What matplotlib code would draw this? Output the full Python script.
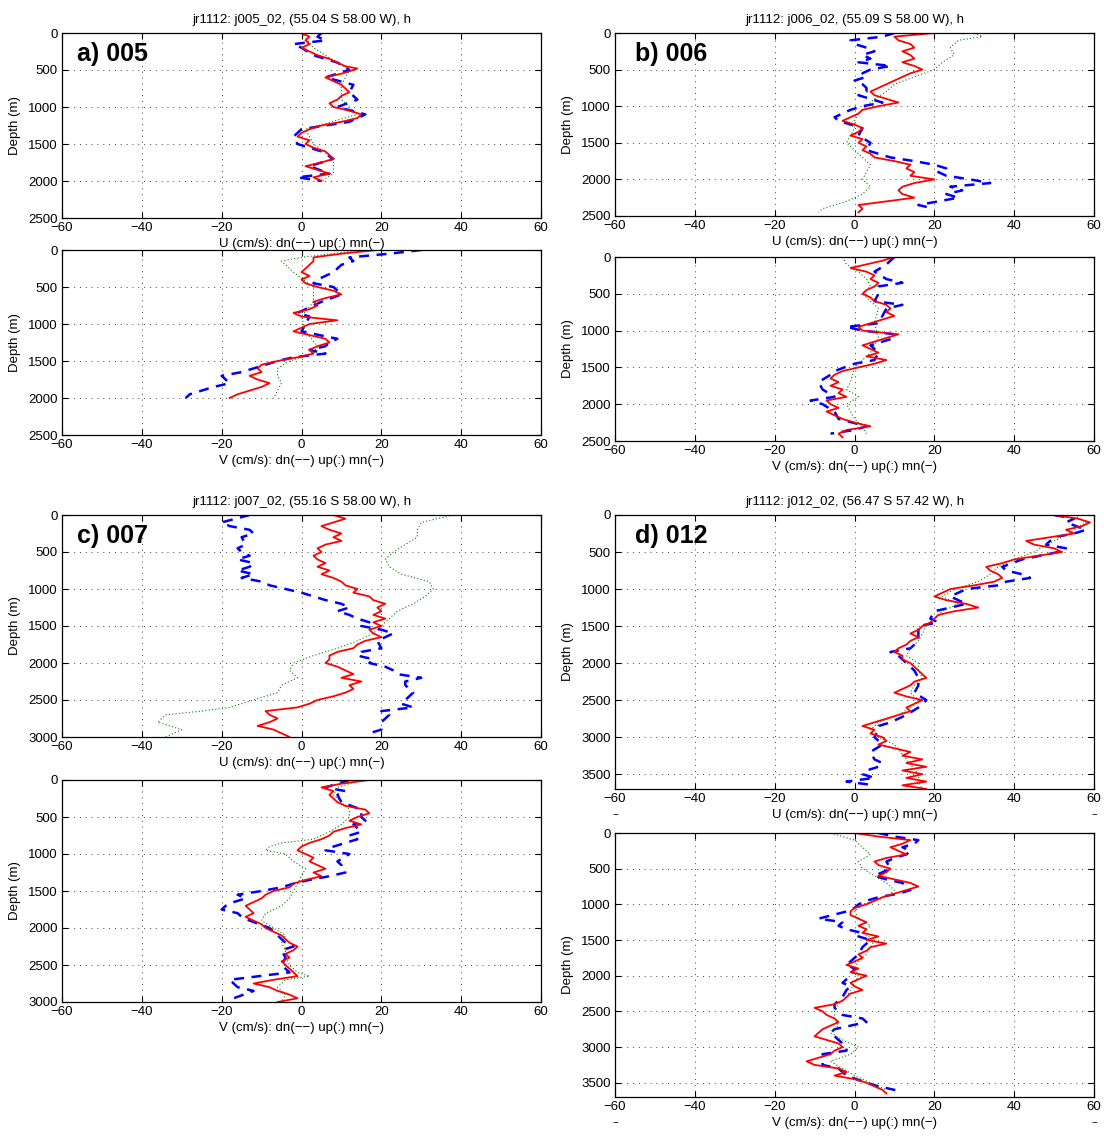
import matplotlib
matplotlib.use("Agg")
import matplotlib.pyplot as plt

plt.rcParams['font.family'] = ['Liberation Sans', 'DejaVu Sans']

# Each profile is a list of (depth [m], velocity [cm/s]) pairs.
# dn = downcast (blue dashed), up = upcast (green dotted), mn = mean (red solid)

# ---------------- station 005 ----------------
a_u_mn = [(0, 0), (50, 2), (100, 1), (150, 2), (200, 0), (250, 2), (300, 4), (350, 7), (400, 9),
          (450, 11), (480, 14), (500, 13), (550, 10), (600, 6), (650, 8), (700, 10), (750, 11),
          (800, 12), (850, 10), (900, 9), (950, 7), (1000, 8), (1050, 12), (1100, 15), (1150, 14),
          (1200, 10), (1250, 5), (1300, 2), (1350, 0), (1400, -1), (1450, 2), (1500, 1), (1550, 3),
          (1600, 6), (1650, 7), (1700, 8), (1750, 5), (1800, 1), (1850, 4), (1900, 7), (1950, 3),
          (2000, 5)]
a_u_dn = [(0, 5), (50, 4), (100, 6), (150, -2), (200, 0), (300, 3), (400, 9), (500, 12), (600, 6),
          (700, 13), (800, 12), (900, 14), (1000, 9), (1100, 16), (1200, 12), (1300, 0), (1400, -2),
          (1500, -1), (1600, 5), (1700, 8), (1800, 2), (1900, 7), (1950, -1), (2000, 5)]
a_u_up = [(0, 0), (200, 3), (400, 9), (500, 12), (700, 10), (900, 10), (1100, 14), (1300, 1),
          (1500, 3), (1700, 8), (1900, 8), (2000, 5)]

a_v_mn = [(0, 19), (50, 10), (100, 3), (150, 3), (200, 2), (250, 1), (300, 0), (350, 2), (400, 0),
          (450, 1), (500, 4), (550, 8), (600, 10), (650, 6), (700, 3), (750, 4), (800, 2), (850, -2),
          (900, 0), (950, 9), (1000, 2), (1050, 0), (1100, -2), (1150, 2), (1200, 6), (1250, 7),
          (1300, 4), (1350, 2), (1400, 3), (1450, -1), (1500, -6), (1550, -10), (1600, -11),
          (1650, -10), (1700, -13), (1750, -11), (1800, -8), (1850, -10), (1900, -13), (1950, -16),
          (2000, -18)]
a_v_dn = [(0, 30), (50, 22), (100, 12), (150, 13), (200, 10), (300, 8), (400, 4), (450, 3), (500, 8),
          (550, 9), (600, 10), (700, 5), (800, 1), (850, -1), (900, 2), (1000, 1), (1100, 0),
          (1200, 9), (1250, 7), (1300, 6), (1350, 2), (1400, 6), (1450, -2), (1500, -6), (1600, -12),
          (1650, -15), (1700, -20), (1750, -19), (1800, -18), (1850, -22), (1900, -25), (1950, -28),
          (2000, -29)]
a_v_up = [(0, 15), (100, 0), (150, -5), (200, -4), (300, -2), (500, 3), (700, 3), (900, 0),
          (1100, 1), (1300, 4), (1400, 3), (1500, -3), (1600, -6), (1700, -6), (1800, -5),
          (1900, -6), (2000, -7)]

# ---------------- station 006 ----------------
b_u_mn = [(0, 20), (50, 10), (100, 11), (150, 14), (200, 15), (250, 12), (300, 14), (350, 15),
          (400, 12), (450, 15), (500, 17), (550, 14), (600, 12), (650, 10), (700, 8), (750, 6),
          (800, 4), (850, 5), (900, 8), (950, 11), (1000, 6), (1050, 2), (1100, 1), (1150, -1),
          (1200, -3), (1250, 0), (1300, 2), (1350, 1), (1400, -1), (1450, 2), (1500, 1), (1550, 3),
          (1600, 2), (1650, 4), (1700, 5), (1750, 10), (1800, 14), (1850, 13), (1900, 15),
          (1950, 14), (2000, 20), (2050, 15), (2100, 12), (2150, 11), (2200, 12), (2250, 15),
          (2300, 8), (2350, 1), (2400, 2), (2450, 1)]
b_u_dn = [(0, 10), (50, 7), (100, -1), (150, 0), (200, 3), (250, 5), (300, 2), (350, 4), (400, 1),
          (450, 9), (500, 4), (550, 2), (600, 3), (650, 0), (700, 2), (750, 3), (800, 3), (850, 1),
          (900, 4), (950, 7), (1000, 2), (1050, -1), (1100, -3), (1150, -5), (1200, -4), (1300, 2),
          (1400, 1), (1500, 4), (1600, 3), (1700, 9), (1750, 15), (1800, 20), (1850, 23), (1900, 21),
          (1950, 23), (2000, 29), (2050, 34), (2100, 24), (2150, 27), (2200, 23), (2250, 26),
          (2300, 21), (2350, 16), (2400, 20)]
b_u_up = [(0, 30), (50, 32), (100, 26), (200, 24), (300, 25), (400, 22), (500, 20), (600, 15),
          (700, 10), (800, 8), (900, 5), (1000, 3), (1100, 1), (1200, 0), (1300, 0), (1400, -1),
          (1500, -2), (1600, 0), (1700, 2), (1800, 4), (1900, 3), (2000, 2), (2100, 4), (2200, 2),
          (2300, -2), (2400, -8), (2450, -9)]

b_v_mn = [(0, 10), (50, 7), (100, 3), (150, -1), (200, 3), (250, 5), (300, 4), (350, 6), (400, 5),
          (450, 3), (500, 2), (550, 4), (600, 5), (650, 8), (700, 9), (750, 8), (800, 10), (850, 7),
          (900, 4), (950, 1), (1000, 2), (1050, 11), (1100, 8), (1150, 5), (1200, 2), (1250, 4),
          (1300, 6), (1350, 3), (1400, 8), (1450, 5), (1500, 1), (1550, -3), (1600, -5), (1650, -6),
          (1700, -4), (1750, -6), (1800, -3), (1850, -4), (1900, -2), (1950, -7), (2000, -6),
          (2050, -4), (2100, -7), (2150, -5), (2200, -3), (2250, 0), (2300, 4), (2350, -2),
          (2400, -4), (2450, -3)]
b_v_dn = [(0, 10), (100, 8), (200, 5), (300, 8), (350, 12), (400, 6), (500, 6), (600, 5), (650, 12),
          (700, 8), (800, 7), (900, 6), (950, -2), (1000, 2), (1050, 10), (1100, 10), (1200, 4),
          (1300, 6), (1400, 5), (1450, 0), (1550, -5), (1600, -6), (1700, -9), (1800, -8),
          (1900, -5), (1950, -11), (2000, -8), (2100, -5), (2200, -4), (2300, 3), (2350, 0),
          (2400, -6)]
b_v_up = [(0, -3), (100, -2), (200, 1), (300, 3), (400, 4), (500, 2), (700, 6), (900, 5), (1100, 6),
          (1300, 4), (1500, 0), (1700, -1), (1800, -2), (1900, 1), (2000, -2), (2200, 0), (2300, 2),
          (2400, 3)]

# ---------------- station 007 ----------------
c_u_mn = [(0, 8), (50, 11), (100, 8), (150, 5), (200, 7), (250, 10), (300, 8), (350, 10), (400, 6),
          (450, 4), (500, 5), (550, 3), (600, 4), (650, 6), (700, 4), (750, 7), (800, 5), (850, 8),
          (900, 10), (950, 11), (1000, 14), (1050, 13), (1100, 17), (1150, 18), (1200, 21),
          (1250, 19), (1300, 20), (1350, 18), (1400, 21), (1450, 18), (1500, 20), (1550, 17),
          (1600, 18), (1650, 20), (1700, 16), (1750, 14), (1800, 13), (1850, 9), (1900, 7),
          (1950, 7), (2000, 6), (2050, 9), (2100, 11), (2150, 13), (2200, 10), (2250, 15),
          (2300, 12), (2350, 13), (2400, 11), (2450, 8), (2500, 4), (2550, 2), (2600, -1),
          (2650, -9), (2700, -8), (2750, -6), (2800, -8), (2850, -11), (2900, -7), (2950, -5),
          (3000, -3)]
c_u_dn = [(0, -13), (100, -20), (150, -18), (200, -13), (250, -12), (300, -15), (400, -14),
          (450, -16), (500, -15), (550, -13), (600, -16), (650, -12), (700, -13), (750, -16),
          (800, -12), (850, -15), (900, -10), (950, -8), (1000, -4), (1050, 0), (1100, 3),
          (1150, 6), (1200, 10), (1250, 12), (1300, 9), (1350, 12), (1400, 14), (1450, 17),
          (1500, 15), (1550, 20), (1600, 23), (1650, 21), (1700, 19), (1800, 20), (1850, 15),
          (1900, 14), (1950, 18), (2000, 17), (2050, 21), (2100, 23), (2150, 24), (2200, 30),
          (2250, 26), (2300, 26), (2400, 28), (2450, 27), (2500, 26), (2550, 25), (2600, 28),
          (2650, 20), (2700, 22), (2800, 20), (2900, 20), (2950, 17)]
c_u_up = [(0, 38), (50, 34), (100, 30), (200, 29), (300, 29), (400, 26), (500, 23), (600, 21),
          (700, 22), (800, 25), (900, 32), (1000, 33), (1100, 31), (1200, 28), (1300, 24),
          (1400, 22), (1500, 20), (1600, 18), (1700, 14), (1800, 9), (1900, 3), (2000, -2),
          (2100, -3), (2200, -1), (2300, -5), (2400, -6), (2500, -12), (2600, -18), (2650, -25),
          (2700, -34), (2800, -36), (2850, -33), (2900, -30), (3000, -34)]

c_v_mn = [(0, 17), (50, 10), (100, 5), (150, 8), (200, 7), (250, 8), (300, 9), (350, 11), (400, 16),
          (450, 17), (500, 14), (550, 12), (600, 15), (650, 11), (700, 8), (750, 7), (800, 5),
          (850, 2), (900, 0), (950, -1), (1000, 1), (1050, 3), (1100, 2), (1150, 4), (1200, 6),
          (1250, 3), (1300, 5), (1350, 1), (1400, -2), (1450, -3), (1500, -7), (1550, -9),
          (1600, -10), (1650, -12), (1700, -14), (1750, -13), (1800, -12), (1850, -14), (1900, -12),
          (1950, -10), (2000, -9), (2050, -7), (2100, -5), (2150, -4), (2200, -3), (2250, -1),
          (2300, -2), (2350, -4), (2400, -3), (2450, -5), (2500, -4), (2550, -3), (2600, -2),
          (2650, -1), (2700, -7), (2750, -12), (2800, -8), (2850, -6), (2900, -3), (2950, -1),
          (3000, -6)]
c_v_dn = [(0, 12), (100, 6), (150, 11), (200, 9), (300, 10), (400, 15), (500, 15), (550, 16),
          (600, 13), (700, 15), (750, 12), (800, 14), (900, 8), (950, 6), (1000, 12), (1100, 9),
          (1150, 10), (1200, 10), (1250, 11), (1300, 7), (1350, 2), (1400, -2), (1450, -5),
          (1500, -10), (1550, -16), (1600, -14), (1650, -17), (1700, -19), (1750, -20), (1800, -16),
          (1850, -15), (1900, -13), (2000, -8), (2100, -6), (2200, -4), (2250, -2), (2300, -5),
          (2400, -4), (2500, -5), (2600, -3), (2700, -18), (2750, -17), (2800, -16), (2850, -12),
          (2950, -17), (3000, -18)]
c_v_up = [(0, 15), (100, 9), (200, 8), (300, 10), (400, 12), (500, 12), (600, 10), (700, 7),
          (800, 3), (850, -5), (900, -8), (950, -9), (1000, -4), (1100, -2), (1200, 1), (1300, 0),
          (1400, -1), (1500, -2), (1600, -3), (1700, -5), (1800, -9), (1900, -10), (2000, -7),
          (2100, -4), (2200, -5), (2300, -4), (2400, -4), (2500, -3), (2600, -1), (2650, 2),
          (2700, -4), (2800, -6), (2900, -4), (3000, -5)]

# ---------------- station 012 ----------------
d_u_mn = [(0, 50), (50, 56), (100, 59), (150, 57), (200, 53), (250, 55), (300, 49), (350, 43),
          (400, 45), (450, 50), (500, 52), (550, 46), (600, 40), (650, 37), (700, 33), (750, 34),
          (800, 36), (850, 37), (900, 35), (950, 30), (1000, 24), (1050, 22), (1100, 20), (1150, 23),
          (1200, 28), (1250, 31), (1300, 25), (1350, 21), (1400, 20), (1450, 19), (1500, 17),
          (1550, 16), (1600, 14), (1650, 16), (1700, 14), (1750, 13), (1800, 11), (1850, 10),
          (1900, 12), (1950, 12), (2000, 14), (2050, 15), (2100, 16), (2150, 17), (2200, 18),
          (2250, 15), (2300, 14), (2350, 12), (2400, 10), (2450, 13), (2500, 17), (2550, 15),
          (2600, 13), (2650, 14), (2700, 11), (2750, 8), (2800, 5), (2850, 2), (2900, 5), (2950, 4),
          (3000, 7), (3050, 8), (3100, 6), (3150, 10), (3200, 14), (3250, 12), (3300, 17),
          (3350, 13), (3400, 18), (3450, 12), (3500, 17), (3550, 13), (3600, 18), (3650, 12),
          (3700, 18)]
d_u_dn = [(0, 50), (50, 55), (100, 53), (200, 58), (250, 55), (300, 50), (400, 48), (450, 53),
          (500, 51), (600, 42), (700, 37), (750, 38), (800, 42), (850, 44), (900, 38), (950, 36),
          (1000, 28), (1100, 24), (1200, 28), (1300, 20), (1400, 19), (1450, 21), (1500, 16),
          (1600, 16), (1700, 16), (1750, 15), (1800, 14), (1850, 9), (1900, 11), (2000, 13),
          (2100, 15), (2200, 16), (2300, 16), (2400, 15), (2500, 18), (2600, 16), (2700, 13),
          (2800, 9), (2850, 6), (2900, 6), (3000, 5), (3050, 6), (3100, 7), (3200, 4), (3300, 5),
          (3350, 7), (3400, 6), (3450, 3), (3500, 2), (3550, 5), (3600, -2), (3650, 5)]
d_u_up = [(0, 55), (100, 58), (200, 55), (300, 52), (400, 48), (500, 45), (600, 40), (700, 36),
          (800, 34), (900, 31), (1000, 25), (1100, 22), (1200, 26), (1300, 22), (1400, 20),
          (1500, 18), (1600, 17), (1700, 16), (1800, 14), (1900, 13), (2000, 16), (2100, 16),
          (2200, 17), (2300, 15), (2400, 14), (2500, 16), (2600, 14), (2700, 11), (2800, 6),
          (2900, 4), (3000, 6), (3100, 10), (3300, 13), (3500, 16), (3600, 16), (3700, 17)]

d_v_mn = [(0, 0), (50, 6), (100, 14), (150, 12), (200, 9), (250, 11), (300, 13), (350, 8), (400, 5),
          (450, 6), (500, 9), (550, 8), (600, 6), (650, 10), (700, 14), (750, 16), (800, 13),
          (850, 10), (900, 7), (950, 5), (1000, 3), (1050, 0), (1100, -1), (1150, -1), (1200, 1),
          (1250, 3), (1300, 1), (1350, 3), (1400, 2), (1450, 6), (1500, 3), (1550, 8), (1600, 4),
          (1650, 3), (1700, 1), (1750, 2), (1800, 0), (1850, -2), (1900, 1), (1950, -1), (2000, 3),
          (2050, 1), (2100, -1), (2150, 0), (2200, 2), (2250, -1), (2300, -2), (2350, -3),
          (2400, -5), (2450, -10), (2500, -8), (2550, -7), (2600, -5), (2650, -4), (2700, -6),
          (2750, -8), (2800, -9), (2850, -10), (2900, -7), (2950, -4), (3000, -3), (3050, -5),
          (3100, -6), (3150, -9), (3200, -12), (3250, -10), (3300, -4), (3350, -2), (3400, -5),
          (3450, 0), (3500, 3), (3550, 5), (3600, 7), (3650, 8)]
d_v_dn = [(0, 6), (50, 10), (100, 16), (150, 15), (200, 12), (250, 14), (300, 13), (350, 10),
          (400, 8), (500, 9), (600, 5), (650, 8), (700, 12), (800, 14), (850, 11), (900, 6),
          (950, 3), (1000, 1), (1050, 0), (1100, -2), (1200, -9), (1250, -3), (1300, -4), (1350, -2),
          (1400, 2), (1450, 1), (1500, 4), (1550, 3), (1600, 2), (1700, 1), (1800, -1), (1850, -2),
          (1900, 0), (2000, -1), (2100, -3), (2150, -1), (2200, -2), (2300, -3), (2400, -5),
          (2450, -5), (2500, -4), (2550, -3), (2600, 2), (2650, 3), (2700, -1), (2750, -5),
          (2800, -6), (2850, -5), (2900, -4), (3000, -2), (3050, -2), (3100, -8), (3200, -8),
          (3250, -8), (3300, -4), (3400, -2), (3500, 3), (3550, 6), (3600, 10), (3620, 12)]
d_v_up = [(0, -6), (50, -3), (100, 0), (200, 2), (300, 4), (400, 1), (500, 2), (600, 5), (700, 8),
          (800, 10), (900, 8), (1000, 2), (1100, 0), (1200, 1), (1300, 4), (1400, 2), (1500, 5),
          (1600, 4), (1700, 3), (1800, 1), (1900, 0), (2000, 1), (2100, 0), (2200, -1), (2300, -2),
          (2400, -4), (2500, -5), (2600, -5), (2700, -4), (2800, -6), (2900, -3), (3000, 1),
          (3100, -1), (3200, -6), (3300, -3), (3400, 0), (3500, 4), (3600, 8)]

station_labels = ['a) 005', 'b) 006', 'c) 007', 'd) 012']
station_titles = ['jr1112: j005_02, (55.04 S 58.00 W), h',
                  'jr1112: j006_02, (55.09 S 58.00 W), h',
                  'jr1112: j007_02, (55.16 S 58.00 W), h',
                  'jr1112: j012_02, (56.47 S 57.42 W), h']
depth_max = [2500, 2500, 3000, 3700]
depth_ticks = [[0, 500, 1000, 1500, 2000, 2500],
               [0, 500, 1000, 1500, 2000, 2500],
               [0, 500, 1000, 1500, 2000, 2500, 3000],
               [0, 500, 1000, 1500, 2000, 2500, 3000, 3500]]
vel_ticks = [-60, -40, -20, 0, 20, 40, 60]
u_label = 'U (cm/s): dn(\u2212\u2212) up(:) mn(\u2212)'
v_label = 'V (cm/s): dn(\u2212\u2212) up(:) mn(\u2212)'

profiles = [
    ((a_u_dn, a_u_up, a_u_mn), (a_v_dn, a_v_up, a_v_mn)),
    ((b_u_dn, b_u_up, b_u_mn), (b_v_dn, b_v_up, b_v_mn)),
    ((c_u_dn, c_u_up, c_u_mn), (c_v_dn, c_v_up, c_v_mn)),
    ((d_u_dn, d_u_up, d_u_mn), (d_v_dn, d_v_up, d_v_mn)),
]

# axes boxes in pixels: (left, top, right, bottom) for U and V
W, H = 1104, 1142
boxes = [
    ((62, 33, 541, 218), (62, 250, 541, 435)),
    ((615, 33, 1094, 216), (615, 257, 1094, 441)),
    ((62, 515, 541, 737), (62, 780, 541, 1002)),
    ((615, 515, 1094, 789), (615, 833, 1094, 1097)),
]
label_dx = [15, 20, 15, 20]

fig = plt.figure(figsize=(W / 100, H / 100), dpi=100)
fig.patch.set_facecolor('white')


def add_axes(box):
    l, t, r, b = box
    return fig.add_axes([l / W, 1 - b / H, (r - l) / W, (b - t) / H])


def draw_profile(ax, series, zmax, zticks, xlabel):
    dn, up, mn = series
    for data, style in ((dn, dict(color='#0000ff', lw=1.8, ls=(0, (4, 3)))),
                        (up, dict(color='#008000', lw=0.8, ls=(0, (1, 2)))),
                        (mn, dict(color='#ff0000', lw=1.3, ls='-'))):
        z = [p[0] for p in data]
        v = [p[1] for p in data]
        ax.plot(v, z, **style)
    ax.set_xlim(-60, 60)
    ax.set_ylim(zmax, 0)
    ax.set_xticks(vel_ticks)
    ax.set_yticks(zticks)
    ax.set_axisbelow(True)
    ax.grid(True, color='0.25', lw=0.7, ls=(0, (1, 5)))
    ax.tick_params(direction='in', top=True, right=True, length=4, width=0.8,
                   labelsize=9.5, pad=3)
    for s in ax.spines.values():
        s.set_linewidth(0.9)
    ax.set_xlabel(xlabel, fontsize=9.5, labelpad=3)
    ax.set_ylabel('Depth (m)', fontsize=9.5, labelpad=5)


for i in range(4):
    ub, vb = boxes[i]
    ax_u = add_axes(ub)
    draw_profile(ax_u, profiles[i][0], depth_max[i], depth_ticks[i], u_label)
    ax_u.set_title(station_titles[i], fontsize=9.5, pad=7)
    ax_u.annotate(station_labels[i], xy=(0, 1), xycoords='axes fraction',
                  xytext=(label_dx[i], -9), textcoords='offset pixels',
                  fontsize=18, fontweight='bold', va='top', ha='left')
    ax_v = add_axes(vb)
    draw_profile(ax_v, profiles[i][1], depth_max[i], depth_ticks[i], v_label)
    if i == 3:
        for ax in (ax_u, ax_v):
            for xf in (0.0, 1.0):
                ax.annotate('\u2212', xy=(xf, 0), xycoords='axes fraction',
                            xytext=(0, -21), textcoords='offset pixels',
                            fontsize=7, ha='center', va='top')

fig.savefig('out.png', dpi=100, facecolor='white')
